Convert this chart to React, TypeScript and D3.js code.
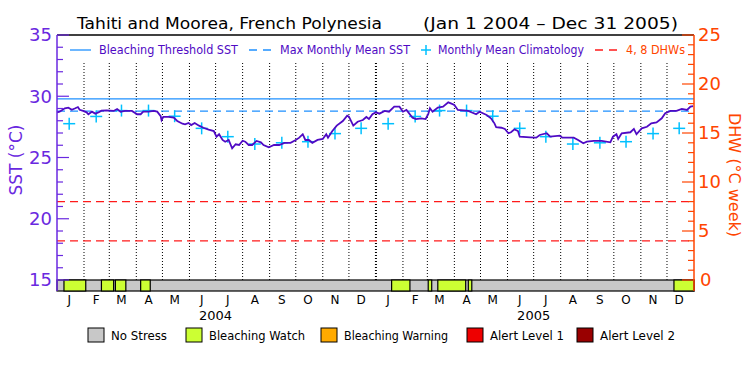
import React from "react";
import * as d3 from "d3";

// ---- data ----
const sstDays = [0,3,9,13,17,21,24,26,30,34,36,40,44,48,51,57,65,69,73,78,86,92,96,99,105,111,115,119,120,122,128,134,138,144,147,151,154,158,163,168,174,180,183,186,190,193,197,201,205,209,213,216,220,224,229,234,237,243,249,255,261,268,274,278,282,285,289,293,299,305,309,311,316,321,328,333,335,340,345,351,355,358,362,366,370,376,381,387,393,397,401,408,412,418,423,426,428,431,437,443,449,452,456,460,472,481,485,493,498,502,504,510,514,518,521,525,529,531,543,550,554,562,566,577,580,593,598,604,608,616,625,635,638,642,644,648,658,662,665,671,677,682,688,694,698,704,711,717,723,727,730];
const sstValues = [28.69,28.74,29.02,29.07,28.9,29.02,29.12,28.9,28.8,28.69,28.53,28.74,28.58,28.69,28.82,28.85,28.8,28.96,28.74,28.8,28.8,28.53,28.53,28.74,28.74,28.8,28.74,28.37,28.04,28.31,28.31,28.25,27.98,27.76,27.71,27.82,27.65,27.82,27.6,27.43,27.27,27.16,26.7,26.9,26.43,26.29,26.43,25.75,26.08,26.02,26.37,26.29,26.02,26.02,26.35,26.24,26.02,25.83,26.02,26.02,26.2,26.2,26.43,26.62,26.9,26.43,26.43,26.2,26.43,26.51,26.9,26.62,27.16,27.6,27.98,28.41,28.33,27.6,27.92,28.06,28.31,28.14,28.53,28.69,28.58,28.8,28.74,29.15,29.15,28.74,28.88,28.25,28.14,28.2,28.14,28.53,29.02,28.74,29.07,29.15,29.5,29.42,29.29,28.88,28.8,28.53,28.74,28.47,28.2,27.79,27.47,27.43,27.33,26.98,27.06,27.3,27.16,26.7,26.65,26.62,26.84,26.98,26.7,26.78,26.62,26.62,26.43,26.16,26.29,26.35,26.35,26.24,26.7,26.9,26.51,26.98,27.06,27.33,26.9,27.38,27.51,27.79,27.87,28.2,28.61,28.8,28.8,28.96,28.88,29.15,29.2];
const climatology = [27.76,28.35,28.83,28.83,28.37,27.38,26.7,26.1,26.2,26.29,26.95,27.38];
const mmm = 28.79;
const bleachingThreshold = 29.79;
const dhwLevels = [4, 8];
const monthLabels = ["J","F","M","A","M","J","J","A","S","O","N","D"];
const years = [2004, 2005];
const watchStart = [8,51,67,96,384,426,437,472,708];
const watchEnd = [33,65,79,107,405,430,469,476,731];
const stressLegend = ["No Stress","Bleaching Watch","Bleaching Warning","Alert Level 1","Alert Level 2"];
const stressColors = ["#c8c8c8","#ccff33","#ffaa00","#ee0000","#990000"];

const PURPLE = "#6a28e0";
const LINE_PURPLE = "#4f0ac4";
const BLUE = "#1e90ff";
const CYAN = "#00c0ff";
const RED = "#ff1a1a";
const ORANGE = "#ff4500";
const FONT = "'DejaVu Sans', sans-serif";

export default function App() {
  const W = 750, H = 375;
  const t0 = new Date(2004, 0, 1);
  const t1 = new Date(2006, 0, 1);
  const x = d3.scaleTime().domain([t0, t1]).range([57, 694]);
  const dayX = (d: number) => x(d3.timeDay.offset(t0, d));
  const y = d3.scaleLinear().domain([15, 35]).range([280, 35]);
  const yD = d3.scaleLinear().domain([0, 25]).range([280, 35]);
  const left = 57, right = 694, top = 35, bottom = 280, barB = 291;

  const line = d3.line<number>().x((_, i) => dayX(sstDays[i])).y((v) => y(v)).curve(d3.curveLinear);

  const months = d3.timeMonth.range(t0, t1);
  const sstTicks = d3.range(15, 36, 1);
  const dhwTicks = d3.range(0, 26, 1);

  // stress segments: no stress background, then watch segments
  return (
    <svg width={W} height={H} style={{ position: "absolute", left: 0, top: 0, background: "#fff" }} fontFamily={FONT}>
      <rect x={0} y={0} width={W} height={H} fill="#fff" />
      {/* title */}
      <text x={77} y={29} fontSize={16} textLength={305} lengthAdjust="spacingAndGlyphs" fill="#000">Tahiti and Moorea, French Polynesia</text>
      <text x={423} y={29} fontSize={16} textLength={255} lengthAdjust="spacingAndGlyphs" fill="#000">(Jan 1 2004 – Dec 31 2005)</text>

      {/* month dotted lines */}
      {months.slice(1).map((m, i) => {
        const isYear = m.getMonth() === 0;
        return (
          <line key={"m" + i} x1={x(m)} x2={x(m)} y1={63} y2={bottom} stroke="#000" strokeWidth={isYear ? 2 : 1} strokeDasharray="1,2" />
        );
      })}

      {/* DHW reference lines */}
      {dhwLevels.map((d) => (
        <line key={"d" + d} x1={left} x2={right} y1={yD(d)} y2={yD(d)} stroke={RED} strokeWidth={1.2} strokeDasharray="8,5" />
      ))}

      {/* threshold and MMM */}
      <line x1={left} x2={right} y1={y(bleachingThreshold)} y2={y(bleachingThreshold)} stroke={BLUE} strokeWidth={1.3} />
      <line x1={left} x2={right} y1={y(mmm)} y2={y(mmm)} stroke={BLUE} strokeWidth={1.3} strokeDasharray="8,5" />

      {/* climatology crosses */}
      {years.map((yr) =>
        climatology.map((c, i) => {
          const cx = x(new Date(yr, i, 15));
          const cy = y(c);
          return (
            <g key={yr + "-" + i} stroke={CYAN} strokeWidth={1.5}>
              <line x1={cx - 6} x2={cx + 6} y1={cy} y2={cy} />
              <line x1={cx} x2={cx} y1={cy - 6} y2={cy + 6} />
            </g>
          );
        })
      )}

      {/* SST line */}
      <path d={line(sstValues) || ""} fill="none" stroke={LINE_PURPLE} strokeWidth={1.8} />

      {/* frame */}
      <line x1={left} x2={right} y1={top} y2={top} stroke="#000" strokeWidth={1.5} />

      {/* stress bar */}
      <rect x={left} y={bottom} width={right - left} height={barB - bottom} fill={stressColors[0]} stroke="#000" strokeWidth={1.2} />
      {watchStart.map((s, i) => (
        <rect key={"w" + i} x={dayX(s)} y={bottom} width={dayX(watchEnd[i]) - dayX(s)} height={barB - bottom} fill={stressColors[1]} stroke="#000" strokeWidth={1.2} />
      ))}

      {/* left axis */}
      <line x1={left} x2={left} y1={top} y2={barB} stroke={PURPLE} strokeWidth={1.5} />
      {sstTicks.map((t) => (
        <line key={"lt" + t} x1={left} x2={left + (t % 5 === 0 ? 12 : 6)} y1={y(t)} y2={y(t)} stroke={PURPLE} strokeWidth={1.2} />
      ))}
      {sstTicks.filter((t) => t % 5 === 0).map((t) => (
        <text key={"ll" + t} x={52} y={y(t)} dy="0.36em" textAnchor="end" fontSize={18} fill={PURPLE}>{t}</text>
      ))}
      <text transform={`translate(22,160) rotate(-90)`} textAnchor="middle" fontSize={17} fill={PURPLE}>SST (°C)</text>

      {/* right axis */}
      <line x1={right} x2={right} y1={top} y2={barB} stroke={ORANGE} strokeWidth={1.5} />
      {dhwTicks.map((t) => (
        <line key={"rt" + t} x1={right} x2={right - (t % 5 === 0 ? 12 : 6)} y1={yD(t)} y2={yD(t)} stroke={ORANGE} strokeWidth={1.2} />
      ))}
      {dhwTicks.filter((t) => t % 5 === 0).map((t) => (
        <text key={"rl" + t} x={t === 0 ? 700 : 698} y={yD(t)} dy="0.36em" textAnchor="start" fontSize={18} fill={ORANGE}>{t}</text>
      ))}
      <text transform={`translate(729,175) rotate(90)`} textAnchor="middle" fontSize={16} fill={ORANGE}>DHW (°C week)</text>

      {/* month labels */}
      {months.map((m, i) => (
        <text key={"ml" + i} x={x(new Date(m.getFullYear(), m.getMonth(), 15))} y={304} textAnchor="middle" fontSize={12} fill="#000">{monthLabels[m.getMonth()]}</text>
      ))}
      {years.map((yr) => (
        <text key={"yl" + yr} x={x(new Date(yr, 6, 1))} y={320} textAnchor="middle" fontSize={13} fill="#000">{yr}</text>
      ))}

      {/* top legend */}
      <line x1={70} x2={91} y1={50} y2={50} stroke={BLUE} strokeWidth={1.3} />
      <text x={99} y={54} fontSize={12} fill={LINE_PURPLE} textLength={139} lengthAdjust="spacingAndGlyphs">Bleaching Threshold SST</text>
      <line x1={249} x2={273} y1={50} y2={50} stroke={BLUE} strokeWidth={1.3} strokeDasharray="8,6" />
      <text x={280} y={54} fontSize={12} fill={LINE_PURPLE} textLength={130} lengthAdjust="spacingAndGlyphs">Max Monthly Mean SST</text>
      <g stroke={CYAN} strokeWidth={1.5}>
        <line x1={421} x2={431} y1={50} y2={50} />
        <line x1={426} x2={426} y1={45} y2={55} />
      </g>
      <text x={438} y={54} fontSize={12} fill={LINE_PURPLE} textLength={146} lengthAdjust="spacingAndGlyphs">Monthly Mean Climatology</text>
      <line x1={595} x2={619} y1={50} y2={50} stroke={RED} strokeWidth={1.3} strokeDasharray="8,6" />
      <text x={626} y={54} fontSize={12} fill={ORANGE} textLength={59} lengthAdjust="spacingAndGlyphs">4, 8 DHWs</text>

      {/* stress legend */}
      {stressLegend.map((s, i) => {
        const bx = [88, 186, 321, 467, 577][i];
        const tw = [56, 96, 104, 74, 75][i];
        return (
          <g key={"sl" + i}>
            <rect x={bx} y={328} width={16} height={14} fill={stressColors[i]} stroke="#000" strokeWidth={1} />
            <text x={bx + 23} y={340} fontSize={12} fill="#000" textLength={tw} lengthAdjust="spacingAndGlyphs">{s}</text>
          </g>
        );
      })}
    </svg>
  );
}
